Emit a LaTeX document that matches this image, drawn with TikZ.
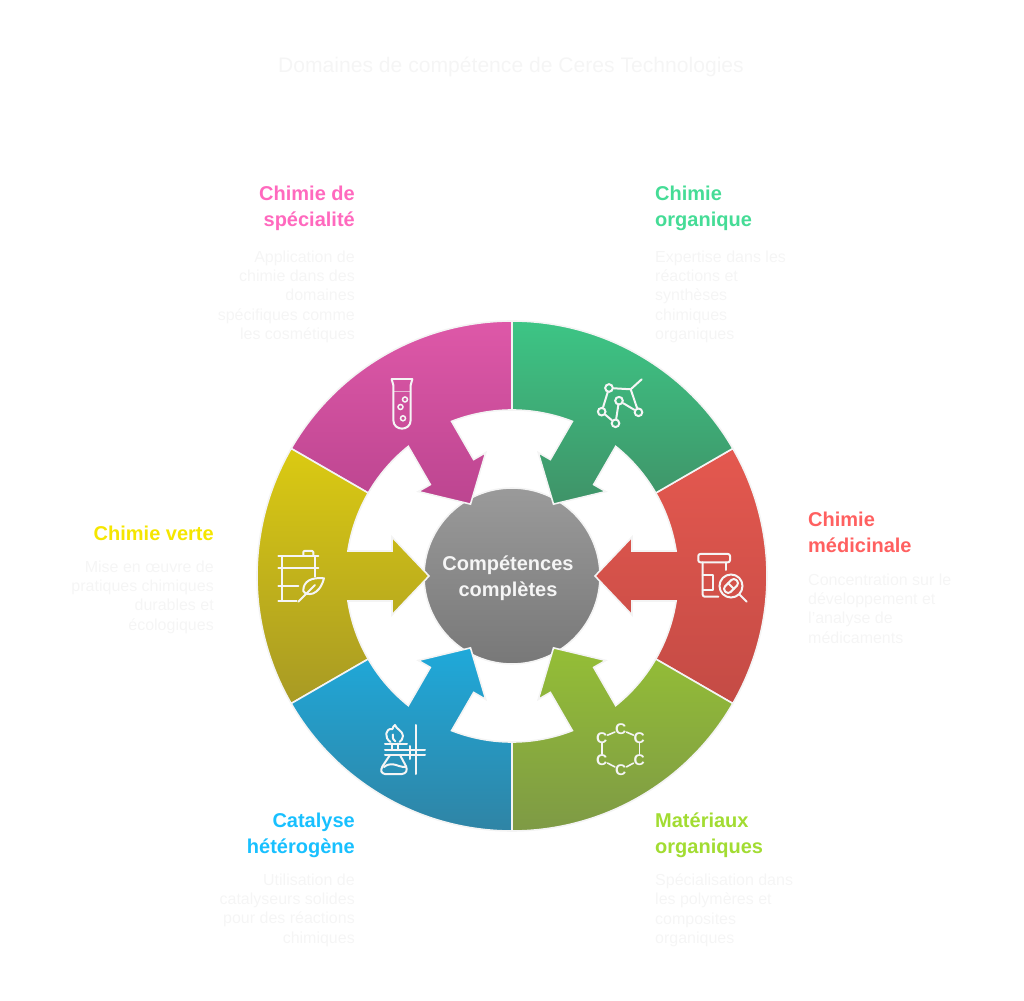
\documentclass[tikz,border=0pt]{standalone}
\usepackage{fontspec}
\setmainfont{Liberation Sans}
\definecolor{edgec}{HTML}{F4F4F4}
\definecolor{faint}{HTML}{F5F5F5}
\definecolor{pinkA}{HTML}{DE58A8}\definecolor{pinkB}{HTML}{BC4590}
\definecolor{greenA}{HTML}{3DC585}\definecolor{greenB}{HTML}{3F9368}
\definecolor{redA}{HTML}{E4584F}\definecolor{redB}{HTML}{C44B45}
\definecolor{oliveA}{HTML}{94BE36}\definecolor{oliveB}{HTML}{7E9A45}
\definecolor{blueA}{HTML}{1FA9DA}\definecolor{blueB}{HTML}{2F84A5}
\definecolor{yelA}{HTML}{DBCA12}\definecolor{yelB}{HTML}{A89A24}
\definecolor{grayA}{HTML}{9A9A9A}\definecolor{grayB}{HTML}{787878}
\definecolor{tPink}{HTML}{FF69BE}\definecolor{tGreen}{HTML}{45DC96}
\definecolor{tRed}{HTML}{FF6060}\definecolor{tYel}{HTML}{F5E600}
\definecolor{tBlue}{HTML}{18C0FF}\definecolor{tOlive}{HTML}{A2DC32}
\newcommand{\ringsector}[3]{%
  \path[draw=edgec,line width=1.6pt,line join=miter,top color=#2,bottom color=#3,middle color=#2!50!#3]
    ({#1-30}:255pt) arc[start angle={#1-30},end angle={#1+30},radius=255pt]
    -- ({#1+30}:166pt) arc[start angle={#1+30},end angle={#1+8.66},radius=166pt]
    -- ({#1+11.77}:122.58pt) -- ({#1+18}:126.18pt) -- (#1:83pt)
    -- ({#1-18}:126.18pt) -- ({#1-11.77}:122.58pt) -- ({#1-8.66}:166pt)
    arc[start angle={#1-8.66},end angle={#1-30},radius=166pt] -- cycle;}
\tikzset{
  headtext/.style={inner sep=0pt,font=\bfseries\fontsize{20}{25.8}\selectfont},
  bodytext/.style={inner sep=0pt,text=faint,font=\fontsize{16}{19.3}\selectfont},
  ic/.style={draw=white!96!black,line width=2pt,line cap=round,line join=round},
  bub/.style={circle,draw=white!96!black,line width=2pt,inner sep=0pt,minimum size=7.6pt},
  cnode/.style={inner sep=0pt,text=white!96!black,font=\bfseries\fontsize{15.5}{15.5}\selectfont}
}
\begin{document}
\begin{tikzpicture}[x=1pt,y=1pt]
\useasboundingbox (-512,-424) rectangle (512,576);
\path[draw=edgec,line width=1.6pt,top color=grayA,bottom color=grayB,middle color=grayA!50!grayB] (0,0) circle[radius=88pt];
\ringsector{0}{redA}{redB}
\ringsector{60}{greenA}{greenB}
\ringsector{120}{pinkA}{pinkB}
\ringsector{180}{yelA}{yelB}
\ringsector{240}{blueA}{blueB}
\ringsector{300}{oliveA}{oliveB}
\begin{scope}[y=-1pt,shift={(-512,-576)}]
% texts
\node[inner sep=0pt,text=faint,font=\fontsize{21.1}{25}\selectfont] (title) at (511,67) {Domaines de compétence de Ceres Technologies};
\node[headtext,align=center,text=faint] (centre) at (508,578) {Compétences\\complètes};
\node[headtext,text=tPink,align=right,anchor=north east] (h1) at (355,186) {Chimie de\\spécialité};
\node[bodytext,align=right,anchor=north east] (b1) at (355,250.5) {Application de\\chimie dans des\\domaines\\spécifiques comme\\les cosmétiques};
\node[headtext,text=tGreen,align=left,anchor=north west] (h2) at (655,186) {Chimie\\organique};
\node[bodytext,align=left,anchor=north west] (b2) at (655,250.5) {Expertise dans les\\réactions et\\synthèses\\chimiques\\organiques};
\node[headtext,text=tRed,align=left,anchor=north west] (h3) at (808,512) {Chimie\\médicinale};
\node[bodytext,align=left,anchor=north west] (b3) at (808,573.5) {Concentration sur le\\développement et\\l'analyse de\\médicaments};
\node[headtext,text=tYel,align=right,anchor=north east] (h4) at (214,526) {Chimie verte};
\node[bodytext,align=right,anchor=north east] (b4) at (214,560.5) {Mise en œuvre de\\pratiques chimiques\\durables et\\écologiques};
\node[headtext,text=tBlue,align=right,anchor=north east] (h5) at (355,813) {Catalyse\\hétérogène};
\node[bodytext,align=right,anchor=north east] (b5) at (355,873.5) {Utilisation de\\catalyseurs solides\\pour des réactions\\chimiques};
\node[headtext,text=tOlive,align=left,anchor=north west] (h6) at (655,813) {Matériaux\\organiques};
\node[bodytext,align=left,anchor=north west] (b6) at (655,873.5) {Spécialisation dans\\les polymères et\\composites\\organiques};
% molecule icon
\node[bub] (m1) at (609,388) {};
\node[bub] (m2) at (601.7,411.7) {};
\node[bub] (m3) at (615.5,423.3) {};
\node[bub] (m4) at (619,400.7) {};
\node[bub] (m5) at (638.5,412.3) {};
\coordinate (mj) at (630.7,389.3);
\coordinate (mt) at (641.7,379.3);
\draw[ic] (m1) -- (mj) -- (mt);
\draw[ic] (mj) -- (m5);
\draw[ic] (m4) -- (m5);
\draw[ic] (m4) -- (m3);
\draw[ic] (m1) -- (m2);
\draw[ic] (m2) -- (m3);
% bottle icon
\draw[ic,rounded corners=2pt] (698.3,554) rectangle (730,562.3);
\draw[ic,rounded corners=2pt] (702.7,562.3) -- (702.7,596.7) -- (718.3,596.7);
\draw[ic] (725.7,562.3) -- (725.7,570);
\draw[ic] (702.7,575) -- (712.7,575) -- (712.7,590) -- (702.7,590);
\node[bub,minimum size=23pt] (lens) at (731,586) {};
\coordinate (hnd) at (746.7,601.7);
\draw[ic] (lens) -- (hnd);
\draw[ic,rotate around={45:(731,586)},rounded corners=3.6pt] (723,582) rectangle (739,590);
\draw[ic] (728.2,583.2) -- (733.8,588.8);
% carbon ring icon
\node[cnode] (c1) at (601.7,737.7) {C};
\node[cnode] (c2) at (620.7,729.5) {C};
\node[cnode] (c3) at (639.3,737.7) {C};
\node[cnode] (c4) at (639.3,760) {C};
\node[cnode] (c5) at (620.7,770) {C};
\node[cnode] (c6) at (601.7,760) {C};
\draw[ic,line width=1.6pt] (c1) -- (c2);
\draw[ic,line width=1.6pt] (c2) -- (c3);
\draw[ic,line width=1.6pt] (c3) -- (c4);
\draw[ic,line width=1.6pt] (c4) -- (c5);
\draw[ic,line width=1.6pt] (c5) -- (c6);
\draw[ic,line width=1.6pt] (c6) -- (c1);
% burner icon
\draw[ic] (390.5,742) .. controls (384,738) and (385,728) .. (392.5,729) .. controls (392.5,727) and (394,726) .. (395,725) .. controls (396,729) and (403,731) .. (403,736) .. controls (403,739) and (401,741) .. (399.5,742);
\draw[ic] (393,734.5) .. controls (392,738) and (394,741) .. (395.5,741.5);
\draw[ic] (385,743.5) -- (407,743.5);
\draw[ic] (391.7,743.5) -- (391.7,750);
\draw[ic] (398.3,743.5) -- (398.3,750);
\draw[ic] (385,750) -- (425,750);
\draw[ic] (385,755) -- (425,755);
\draw[ic] (415.7,725) -- (415.7,774);
\draw[ic] (410,746) -- (410,759);
\draw[ic,rounded corners=3pt] (390,755) -- (380.7,769) -- (382,774) -- (405,774) -- (407.5,769) -- (400,755);
\draw[ic] (384,767) .. controls (390,762) and (396,765) .. (399,766) .. controls (402,767) and (404,767) .. (406,767);
% plan and leaf icon
\draw[ic] (278.3,556) -- (318.3,556);
\draw[ic] (278.3,568.3) -- (318.3,568.3);
\draw[ic] (278.3,585.7) -- (298.3,585.7);
\draw[ic] (278.3,601) -- (296.7,601);
\draw[ic] (282.3,556) -- (282.3,601);
\draw[ic] (315,556) -- (315,576.7);
\draw[ic,rounded corners=1pt] (303.3,556) -- (303.3,551) -- (313.3,551) -- (313.3,556);
\draw[ic] (324,578.3) .. controls (312,577) and (303,581) .. (303.3,591) .. controls (306,596) and (319,597) .. (324,578.3) -- cycle;
\draw[ic] (298.3,601.7) -- (315,585);
% test tube icon
\draw[ic] (391.7,379.3) -- (412.3,379.3);
\draw[ic] (391.7,379.3) -- (393.3,385);
\draw[ic] (412.3,379.3) -- (410.7,385);
\draw[ic] (393.3,385) -- (393.3,420) .. controls (393.3,431.5) and (410.7,431.5) .. (410.7,420) -- (410.7,385);
\draw[ic,line width=1pt,draw opacity=.6] (393.3,391.5) -- (410.7,391.5);
\node[bub,minimum size=5pt,line width=1.5pt] (t1) at (405,399.5) {};
\node[bub,minimum size=5pt,line width=1.5pt] (t2) at (400.5,407) {};
\node[bub,minimum size=5pt,line width=1.5pt] (t3) at (403,418.3) {};
\end{scope}
\end{tikzpicture}
\end{document}
